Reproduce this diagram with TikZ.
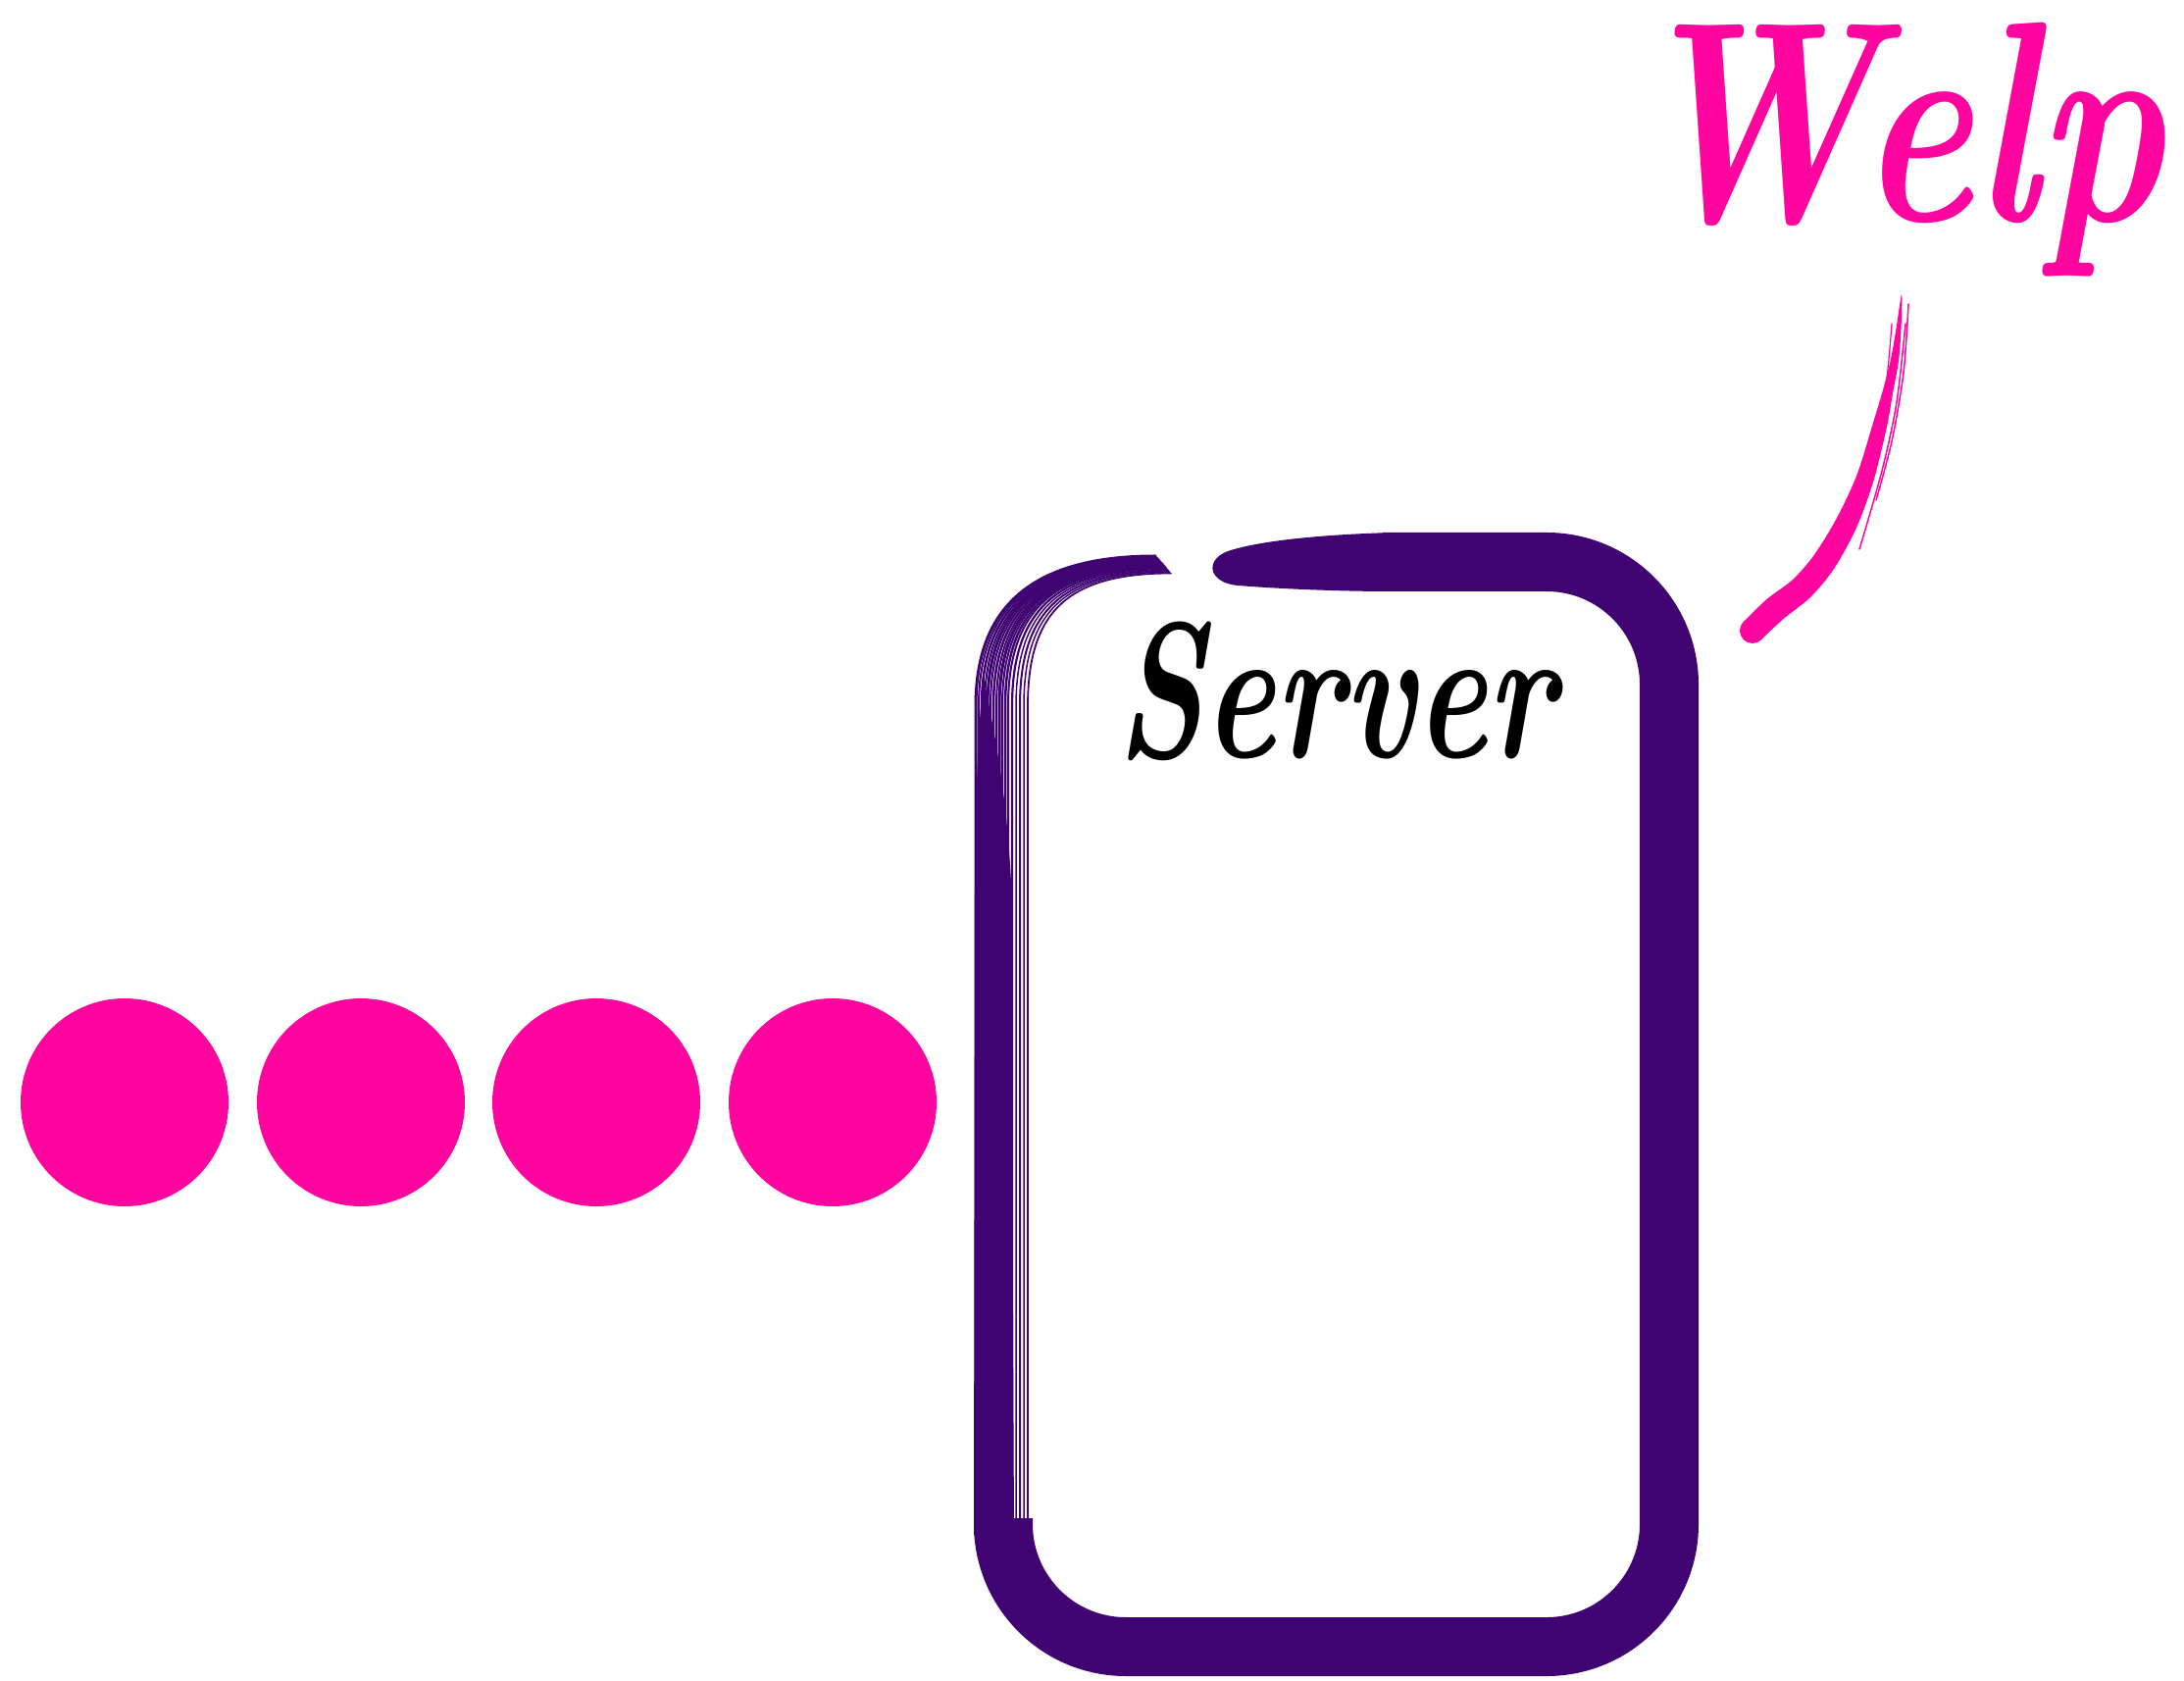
\documentclass[tikz,border=0pt]{standalone}
\definecolor{hotpink}{RGB}{255,5,160}
\definecolor{srvpurple}{RGB}{63,4,113}
\begin{document}
\begin{tikzpicture}[x=0.1mm,y=-0.1mm,
  dot/.style={circle,fill=hotpink,draw=none,minimum size=21.2mm,inner sep=0pt},
  frame/.style={draw=srvpurple,line width=6mm,rounded corners=12.5mm},
  strand/.style={draw=srvpurple,line cap=round},
  brush/.style={draw=hotpink,line cap=round,line join=round},
  scripttext/.style={inner sep=0pt,font=\bfseries\itshape}]
\fill[white] (0,0) rectangle (2227,1714);
\useasboundingbox (0,0) rectangle (2227,1714);

% dots
\foreach \i/\x in {1/127,2/368,3/608,4/849}
  \node[dot] (c\i) at (\x,1124) {};

% server frame (thick brush part)
\draw[frame] (1410,573) -- (1702,573) -- (1702,1679) -- (1023,1679) -- (1023,1548);
\fill[srvpurple] (1420,543) .. controls (1350,545) and (1285,551) .. (1252,562)
  .. controls (1228,571) and (1232,594) .. (1262,597)
  .. controls (1300,600) and (1360,603) .. (1420,603) -- cycle;
% solid part of the left side
\fill[srvpurple] (993,1565) -- (994,900) .. controls (995,800) and (998,730) .. (1003,690)
  .. controls (1012,740) and (1026,800) .. (1031,900) -- (1034,1565) -- cycle;
% dry-brush strands on the left side and the top-left corner
\foreach \d/\w/\e in {0/0.30/1500, 3/0.20/1480, 6/0.25/1520, 9/0.20/1460, 12/0.30/1500,
                      15/0.20/1470, 18/0.25/1510, 21/0.20/1490, 24/0.30/1460, 27/0.20/1520,
                      30/0.25/1480, 33/0.20/1500, 37/0.22/1560, 41/0.15/1555,
                      45/0.20/1575, 49/0.15/1565, 53/0.18/1580}
  \draw[strand,line width=\w mm] (995+\d,\e) -- (995+\d,720)
     .. controls (995+\d,625) and (1045+0.8*\d,567+0.33*\d) .. (1178+0.3*\d,567+0.33*\d);

% labels
\node[scripttext,anchor=base,yscale=1.43] (server) at (1362,773)
  {\fontsize{39.2pt}{42pt}\selectfont Server};
\node[scripttext,anchor=base west,text=hotpink,yscale=1.333] (welp) at (1660,226)
  {\fontsize{62.3pt}{66pt}\selectfont Welp};

% pink brush stroke (tapered)
\fill[hotpink] plot[smooth,tension=0.5] coordinates
  {(1778,634) (1801.5,611) (1828,591) (1849.7,566) (1873,528) (1893.5,484)
   (1910,431) (1919.6,399) (1928,366) (1933.5,335) (1939,300)
   (1938.5,335) (1936,368) (1930,401) (1924,435) (1910.5,490) (1893,538)
   (1870,580) (1846,609) (1818.5,631) (1796,652)} -- cycle;
\fill[hotpink] (1787,643) circle[radius=13];
\draw[brush,line width=0.15mm] plot[smooth] coordinates
  {(1946,310) (1941,380) (1929,450) (1913,510)};
\draw[brush,line width=0.15mm] plot[smooth] coordinates
  {(1943,330) (1934,410) (1919,480) (1896,560)};
\draw[brush,line width=0.12mm] plot[smooth] coordinates
  {(1929,330) (1922,400) (1906,460)};
\end{tikzpicture}
\end{document}
